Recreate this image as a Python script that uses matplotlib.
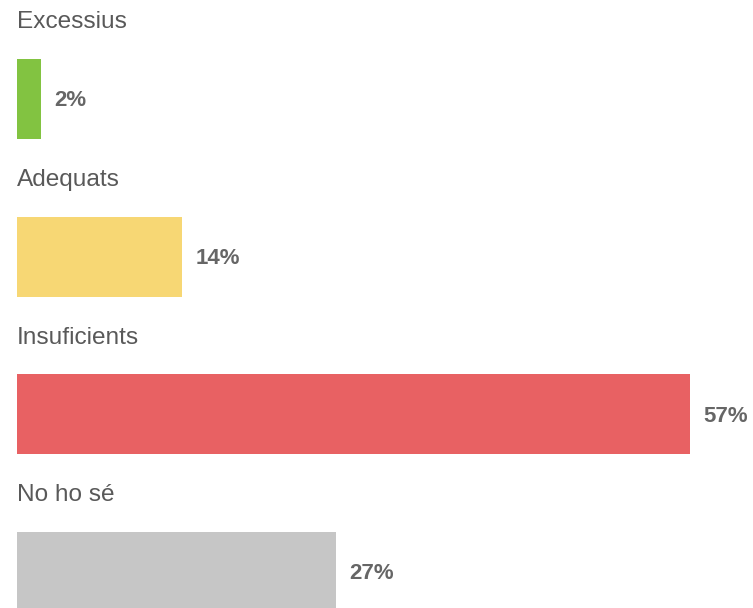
import matplotlib.pyplot as plt

categories = ['Excessius', 'Adequats', 'Insuficients', 'No ho sé']
values = [2, 14, 57, 27]
colors = ['#82c341', '#f7d774', '#e86163', '#c6c6c6']

plt.rcParams['font.family'] = ['Liberation Sans', 'DejaVu Sans']

fig = plt.figure(figsize=(7.53, 6.08), dpi=100)
ax = fig.add_axes([0, 0, 1, 1])

pos = list(range(len(categories)))
ax.barh(pos, values, height=0.507, color=colors)

for i, (cat, v) in enumerate(zip(categories, values)):
    ax.text(0, i - 0.487, cat, ha='left', va='center', fontsize=17.6, color='#595959')
    ax.annotate(f'{v}%', xy=(v, i + 0.012), xytext=(9.5, 0), textcoords='offset points',
                ha='left', va='center', fontsize=16, fontweight='bold', color='#666666')

ax.set_xlim(-1.44, 62.3)
ax.set_ylim(3.228, -0.628)
ax.axis('off')

fig.savefig('out.png', dpi=100)
